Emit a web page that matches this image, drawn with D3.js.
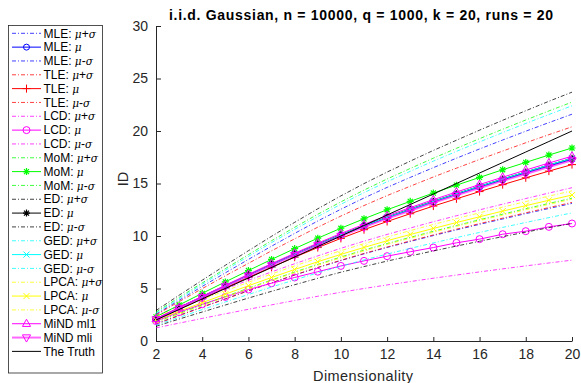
<!DOCTYPE html>
<html><head><meta charset="utf-8">
<script src="https://cdn.jsdelivr.net/npm/d3@7"></script>
<style>body{margin:0;background:#fff;} svg{display:block;font-family:"Liberation Sans",Arial,sans-serif;}</style>
</head><body>
<svg id="chart" width="581" height="383"></svg>
<script>
const dims = [2,3,4,5,6,7,8,9,10,11,12,13,14,15,16,17,18,19,20];
const xTicks = [2,4,6,8,10,12,14,16,18,20];
const yTicks = [0,5,10,15,20,25,30];
const title = "i.i.d. Gaussian, n = 10000, q = 1000, k = 20, runs = 20";

const mleHi  = [2.55,3.88,5.20,6.49,7.77,9.03,10.25,11.43,12.55,13.62,14.63,15.58,16.51,17.41,18.29,19.14,19.98,20.80,21.6];
const mleMu  = [2.1,3.16,4.21,5.25,6.27,7.27,8.24,9.18,10.08,10.93,11.74,12.50,13.24,13.96,14.66,15.34,16.01,16.66,17.3];
const mleLo  = [1.65,2.45,3.24,4.02,4.79,5.54,6.28,6.99,7.66,8.30,8.91,9.48,10.04,10.58,11.11,11.62,12.13,12.62,13.1];
const tleHi  = [2.5,3.75,4.99,6.21,7.40,8.59,9.73,10.84,11.90,12.90,13.85,14.74,15.62,16.46,17.29,18.09,18.88,19.65,20.4];
const tleMu  = [2.0,3.04,4.06,5.06,6.06,7.03,7.98,8.90,9.77,10.60,11.38,12.12,12.85,13.54,14.23,14.89,15.54,16.18,16.8];
const tleLo  = [1.6,2.41,3.21,4.00,4.78,5.54,6.29,7.01,7.69,8.34,8.95,9.53,10.10,10.65,11.18,11.70,12.21,12.71,13.2];
const lcdHi  = [2.45,3.30,4.14,4.97,5.78,6.58,7.36,8.11,8.83,9.51,10.15,10.76,11.36,11.93,12.49,13.03,13.57,14.09,14.6];
const lcdMu  = [1.9,2.75,3.5,4.2,4.9,5.5,6.05,6.6,7.15,7.63,8.08,8.5,8.9,9.35,9.7,10.17,10.46,10.87,11.19];
const lcdLo  = [1.25,1.70,2.15,2.59,3.02,3.44,3.86,4.26,4.64,5.00,5.34,5.66,5.98,6.28,6.58,6.87,7.15,7.43,7.7];
const momHi  = [2.75,4.15,5.53,6.89,8.23,9.55,10.83,12.07,13.25,14.37,15.43,16.43,17.41,18.35,19.27,20.17,21.05,21.91,22.75];
const momMu  = [2.3,3.43,4.54,5.63,6.71,7.77,8.80,9.79,10.74,11.64,12.50,13.30,14.09,14.84,15.58,16.31,17.01,17.71,18.38];
const momLo  = [1.8,2.63,3.44,4.24,5.03,5.81,6.57,7.30,8.00,8.66,9.28,9.87,10.45,11.00,11.55,12.08,12.60,13.10,13.6];
const edHi   = [2.9,4.36,5.79,7.21,8.60,9.97,11.30,12.59,13.82,14.99,16.09,17.13,18.15,19.12,20.08,21.02,21.93,22.83,23.7];
const edMu   = [2.1,3.17,4.23,5.27,6.29,7.30,8.28,9.23,10.13,10.99,11.80,12.57,13.32,14.03,14.74,15.43,16.10,16.76,17.4];
const edLo   = [1.4,2.09,2.76,3.43,4.09,4.73,5.36,5.97,6.55,7.09,7.61,8.10,8.58,9.04,9.50,9.94,10.37,10.79,11.2];
const gedHi  = [2.65,4.03,5.40,6.74,8.06,9.37,10.63,11.85,13.02,14.13,15.17,16.16,17.13,18.06,18.96,19.85,20.72,21.57,22.4];
const gedMu  = [2.05,3.13,4.18,5.23,6.26,7.27,8.25,9.20,10.11,10.97,11.78,12.55,13.30,14.02,14.73,15.42,16.10,16.76,17.4];
const gedLo  = [1.5,2.25,2.99,3.72,4.43,5.14,5.82,6.49,7.12,7.72,8.28,8.82,9.34,9.85,10.34,10.82,11.29,11.75,12.2];
const lpcaHi = [2.3,3.14,3.97,4.78,5.59,6.38,7.15,7.89,8.60,9.27,9.91,10.51,11.10,11.66,12.21,12.75,13.28,13.80,14.3];
const lpcaMu = [2.0,2.83,3.65,4.46,5.26,6.05,6.81,7.55,8.25,8.91,9.55,10.14,10.72,11.28,11.83,12.37,12.89,13.40,13.9];
const lpcaLo = [1.75,2.57,3.38,4.18,4.97,5.75,6.50,7.23,7.92,8.58,9.20,9.79,10.36,10.92,11.46,11.98,12.50,13.01,13.5];
const mindMl1 = [2.1,3.19,4.26,5.31,6.35,7.37,8.36,9.32,10.24,11.11,11.93,12.70,13.46,14.19,14.90,15.60,16.28,16.95,17.6];
const mindMli = [2.05,3.11,4.16,5.19,6.20,7.20,8.17,9.11,10.00,10.85,11.66,12.41,13.16,13.87,14.56,15.25,15.91,16.56,17.2];
const truth  = [2,3,4,5,6,7,8,9,10,11,12,13,14,15,16,17,18,19,20];

const DD = "4,2,1,2";
const series = [
  {m:"MLE", k:"hi", v:mleHi, c:"#0000ff", d:DD},
  {m:"MLE", k:"mu", v:mleMu, c:"#0000ff", mk:"o", ms:3},
  {m:"MLE", k:"lo", v:mleLo, c:"#0000ff", d:DD},
  {m:"TLE", k:"hi", v:tleHi, c:"#ff0000", d:DD},
  {m:"TLE", k:"mu", v:tleMu, c:"#ff0000", mk:"+", ms:4},
  {m:"TLE", k:"lo", v:tleLo, c:"#ff0000", d:DD},
  {m:"LCD", k:"hi", v:lcdHi, c:"#ff00ff", d:DD},
  {m:"LCD", k:"mu", v:lcdMu, c:"#ff00ff", mk:"o", ms:3.5},
  {m:"LCD", k:"lo", v:lcdLo, c:"#ff00ff", d:DD},
  {m:"MoM", k:"hi", v:momHi, c:"#00ff00", d:DD},
  {m:"MoM", k:"mu", v:momMu, c:"#00ff00", mk:"*", ms:3.5},
  {m:"MoM", k:"lo", v:momLo, c:"#00ff00", d:DD},
  {m:"ED", k:"hi", v:edHi, c:"#000000", d:DD},
  {m:"ED", k:"mu", v:edMu, c:"#000000", mk:"*", ms:3.5},
  {m:"ED", k:"lo", v:edLo, c:"#000000", d:DD},
  {m:"GED", k:"hi", v:gedHi, c:"#00ffff", d:DD},
  {m:"GED", k:"mu", v:gedMu, c:"#00ffff", mk:"x", ms:3},
  {m:"GED", k:"lo", v:gedLo, c:"#00ffff", d:DD},
  {m:"LPCA", k:"hi", v:lpcaHi, c:"#ffff00", d:DD},
  {m:"LPCA", k:"mu", v:lpcaMu, c:"#ffff00", mk:"x", ms:3},
  {m:"LPCA", k:"lo", v:lpcaLo, c:"#ffff00", d:DD},
  {m:"MiND ml1", k:"plain", v:mindMl1, c:"#ff00ff", mk:"^", ms:4.5},
  {m:"MiND mli", k:"plain", v:mindMli, c:"#ff00ff", mk:"v", ms:4.5, w:2, op:0.6},
  {m:"The Truth", k:"plain", v:truth, c:"#000000"}
];

const svg = d3.select("#chart");
const x = d3.scaleLinear().domain([2,20]).range([156,572]);
const y = d3.scaleLinear().domain([0,30]).range([341,26]);

function drawMarker(g, type, cx, cy, s, color, w) {
  const sw = w || 1;
  if (type === "o") {
    g.append("circle").attr("cx",cx).attr("cy",cy).attr("r",s).attr("fill","none").attr("stroke",color).attr("stroke-width",1);
  } else if (type === "+") {
    g.append("path").attr("d",`M${cx-s},${cy}H${cx+s}M${cx},${cy-s}V${cy+s}`).attr("stroke",color).attr("stroke-width",1);
  } else if (type === "x") {
    g.append("path").attr("d",`M${cx-s},${cy-s}L${cx+s},${cy+s}M${cx-s},${cy+s}L${cx+s},${cy-s}`).attr("stroke",color).attr("stroke-width",1);
  } else if (type === "*") {
    const a = s*0.72;
    g.append("path").attr("d",`M${cx-s},${cy}H${cx+s}M${cx},${cy-s}V${cy+s}M${cx-a},${cy-a}L${cx+a},${cy+a}M${cx-a},${cy+a}L${cx+a},${cy-a}`).attr("stroke",color).attr("stroke-width",1.2);
  } else if (type === "^") {
    g.append("path").attr("d",`M${cx},${cy-s}L${cx+s*0.9},${cy+s*0.6}L${cx-s*0.9},${cy+s*0.6}Z`).attr("fill","none").attr("stroke",color).attr("stroke-width",1);
  } else if (type === "v") {
    g.append("path").attr("d",`M${cx},${cy+s}L${cx+s*0.9},${cy-s*0.6}L${cx-s*0.9},${cy-s*0.6}Z`).attr("fill","none").attr("stroke",color).attr("stroke-width",sw);
  }
}

// axes
const axisColor = "#262626";
const xAxis = d3.axisBottom(x).tickValues(xTicks).tickSize(-4).tickSizeOuter(0).tickPadding(8);
const yAxis = d3.axisLeft(y).tickValues(yTicks).tickSize(-5).tickSizeOuter(0).tickPadding(8);
const gx = svg.append("g").attr("transform","translate(0,341)").call(xAxis);
const gy = svg.append("g").attr("transform","translate(156,0)").call(yAxis);
[gx,gy].forEach(g=>{
  g.select(".domain").attr("stroke",axisColor).attr("stroke-width",1);
  g.selectAll(".tick line").attr("stroke",axisColor).attr("stroke-width",1);
  g.selectAll(".tick text").attr("fill",axisColor).attr("font-size",14).attr("font-family","Liberation Sans, Arial, sans-serif");
});

// lines
const line = d3.line().x((d,i)=>x(dims[i])).y(d=>y(d));
const plot = svg.append("g");
series.forEach(s=>{
  plot.append("path").datum(s.v).attr("d",line).attr("fill","none")
    .attr("stroke",s.c).attr("stroke-width",s.w||1).attr("stroke-opacity",s.op||(s.d?0.75:1))
    .attr("stroke-dasharray",s.d||null);
  if (s.mk) {
    const mg = plot.append("g");
    s.v.forEach((v,i)=>drawMarker(mg,s.mk,x(dims[i]),y(v),s.ms,s.c,1));
  }
});

// title and labels
svg.append("text").attr("x",361).attr("y",20).attr("text-anchor","middle").attr("font-weight","bold").attr("font-size",14).attr("textLength",384).attr("lengthAdjust","spacing").attr("fill","#000").text(title);
svg.append("text").attr("x",363).attr("y",381).attr("text-anchor","middle").attr("font-size",14.5).attr("textLength",100).attr("lengthAdjust","spacing").attr("fill",axisColor).text("Dimensionality");
svg.append("text").attr("transform","translate(128,179) rotate(-90)").attr("text-anchor","middle").attr("font-size",14.5).attr("fill",axisColor).text("ID");

// legend
const lg = svg.append("g");
lg.append("rect").attr("x",8.5).attr("y",25.5).attr("width",94).attr("height",347.5).attr("fill","#fff").attr("stroke",axisColor).attr("stroke-width",0.8);
series.forEach((s,i)=>{
  const ly = 33.3 + i*13.83;
  lg.append("line").attr("x1",12).attr("x2",41).attr("y1",ly).attr("y2",ly)
    .attr("stroke",s.c).attr("stroke-width",s.w||1).attr("stroke-opacity",s.op||(s.d?0.75:1)).attr("stroke-dasharray",s.d||null);
  if (s.mk) drawMarker(lg,s.mk,26.5,ly,s.ms,s.c,1);
  const t = lg.append("text").attr("x",43.5).attr("y",ly+4.2).attr("font-size",12).attr("fill","#000");
  if (s.k === "plain") { t.text(s.m); }
  else {
    t.append("tspan").text(s.m + ": ");
    t.append("tspan").attr("font-style","italic").attr("font-family","DejaVu Serif, serif").attr("font-size",10.5).text("\u03bc");
    if (s.k === "hi") { t.append("tspan").text("+"); t.append("tspan").attr("font-style","italic").attr("font-family","DejaVu Serif, serif").attr("font-size",10.5).text("\u03c3"); }
    if (s.k === "lo") { t.append("tspan").text("-"); t.append("tspan").attr("font-style","italic").attr("font-family","DejaVu Serif, serif").attr("font-size",10.5).text("\u03c3"); }
  }
});
</script>
</body></html>
